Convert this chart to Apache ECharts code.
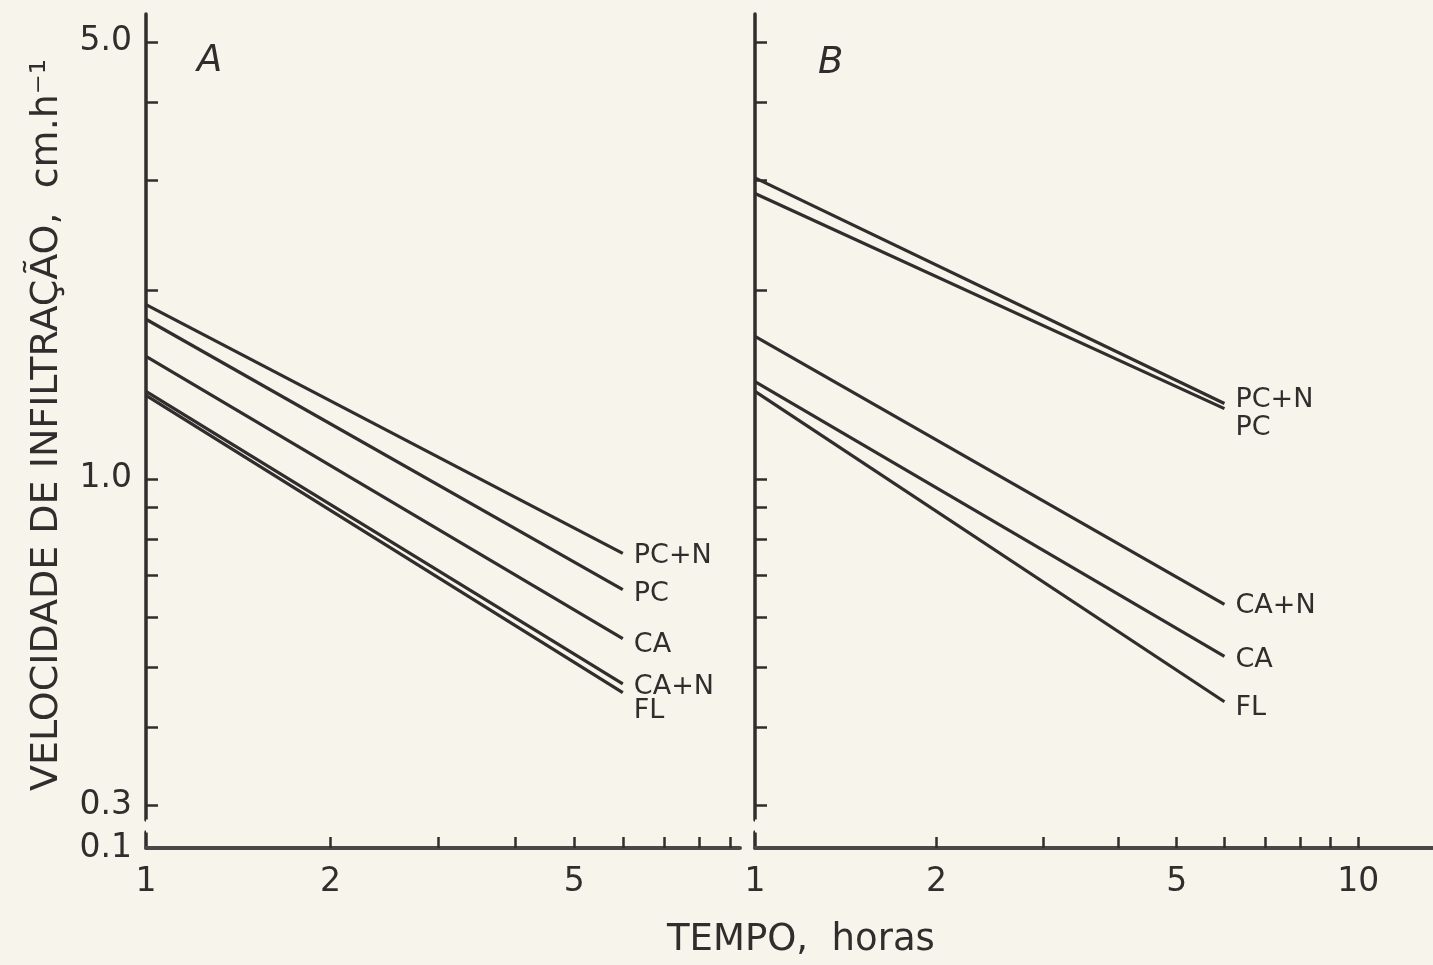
<!DOCTYPE html>
<html><head><meta charset="utf-8">
<script src="https://cdn.jsdelivr.net/npm/echarts@6/dist/echarts.min.js"></script>
<style>html,body{margin:0;padding:0;background:#f7f4eb;}#c{width:1433px;height:965px;}</style>
</head><body><div id="c"></div>
<script>
// ---- data ----
const seriesNames = ['PC+N', 'PC', 'CA', 'CA+N', 'FL'];
const tempo = [1, 6];                 // horas
// Panel A — velocidade de infiltração (cm/h) at tempo[0], tempo[1]
const aPCN = [1.90, 0.76];
const aPC  = [1.80, 0.665];
const aCA  = [1.57, 0.555];
const aCAN = [1.38, 0.47];
const aFL  = [1.36, 0.455];
// Panel B
const bPCN = [3.03, 1.32];
const bPC  = [2.86, 1.295];
const bCAN = [1.69, 0.63];
const bCA  = [1.43, 0.52];
const bFL  = [1.38, 0.44];
// ticks
const xTicksA = [2, 3, 4, 5, 6, 7, 8, 9];
const xTicksB = [2, 3, 4, 5, 6, 7, 8, 9, 10];
const xLabelsA = [1, 2, 5];
const xLabelsB = [1, 2, 5, 10];
const yTicks = [0.3, 0.4, 0.5, 0.6, 0.7, 0.8, 0.9, 1, 2, 3, 4, 5];
const yLabelValues = [0.1, 0.3, 1, 5];
const yLabelTexts = ['0.1', '0.3', '1.0', '5.0'];

// ---- styles ----
const BG = '#f7f4eb';
const INK = '#2f2e2d';
const FONT = "'DejaVu Sans', 'Liberation Sans', sans-serif";
const labelDyA = { 'PC+N': 3, 'PC': 4, 'CA': 6, 'CA+N': 3, 'FL': 18 };
const labelDyB = { 'PC+N': -3, 'PC': 19, 'CA': 4, 'CA+N': 2, 'FL': 6 };

const panelA = [aPCN, aPC, aCA, aCAN, aFL];
const panelB = [bPCN, bPC, bCAN, bCA, bFL];
const namesB = ['PC+N', 'PC', 'CA+N', 'CA', 'FL'];

function yAxisCfg(gridIndex, showLabels) {
  return {
    type: 'log', logBase: 10, gridIndex: gridIndex,
    min: 0.1, max: 5.54,
    breaks: [{ start: 0.106, end: 0.285, gap: '1.5%' }],
    breakArea: { show: true, itemStyle: { color: BG, borderWidth: 0, opacity: 1 },
      zigzagAmplitude: 0, expandOnClick: false },
    axisLine: { show: true, lineStyle: { color: INK, width: 3.5 } },
    axisTick: { show: true, inside: true, length: 12, customValues: yTicks,
      lineStyle: { color: INK, width: 2.5 } },
    axisLabel: { show: showLabels, customValues: yLabelValues, margin: 14,
      fontSize: 33, color: INK, fontFamily: FONT,
      formatter: v => { const i = yLabelValues.findIndex(x => Math.abs(x - v) < 1e-6); return i >= 0 ? yLabelTexts[i] : ''; } },
    splitLine: { show: false },
    name: showLabels ? 'VELOCIDADE DE INFILTRAÇÃO,  cm.h⁻¹' : '',
    nameLocation: 'middle', nameRotate: 90, nameGap: 80,
    nameTextStyle: { fontSize: 38, color: INK, fontFamily: FONT, padding: [0, 0, 0, 12] }
  };
}
function xAxisCfg(gridIndex, max, ticks, labels) {
  return {
    type: 'log', logBase: 10, gridIndex: gridIndex, min: 1, max: max,
    axisLine: { show: true, lineStyle: { color: '#4a4846', width: 4 } },
    axisTick: { show: true, inside: true, length: 11, customValues: ticks,
      lineStyle: { color: INK, width: 2.5 } },
    axisLabel: { show: true, customValues: labels, margin: 18, fontSize: 33,
      color: INK, fontFamily: FONT, formatter: v => String(Math.round(v)) },
    splitLine: { show: false }
  };
}
function makeSeries(arrs, names, gi, dyMap) {
  return arrs.map((vals, i) => ({
    type: 'line', name: names[i], xAxisIndex: gi, yAxisIndex: gi,
    data: tempo.map((t, k) => [t, vals[k]]),
    symbol: 'none', silent: true, animation: false,
    lineStyle: { color: INK, width: 3.2 },
    emphasis: { disabled: true },
    endLabel: { show: true, formatter: '{a}', distance: 11, offset: [0, dyMap[names[i]]],
      fontSize: 27, color: INK, fontFamily: FONT }
  }));
}

const chart = echarts.init(document.getElementById('c'), null, { renderer: 'canvas' });
chart.setOption({
  backgroundColor: BG,
  animation: false,
  title: [
    { text: 'A', left: 192, top: 38, textStyle: { fontSize: 37, fontStyle: 'italic', fontWeight: 'normal', color: INK, fontFamily: FONT } },
    { text: 'B', left: 813, top: 40, textStyle: { fontSize: 37, fontStyle: 'italic', fontWeight: 'normal', color: INK, fontFamily: FONT } },
    { text: 'TEMPO,  horas', left: 662, top: 917, textStyle: { fontSize: 37, fontWeight: 'normal', color: INK, fontFamily: FONT } }
  ],
  grid: [
    { left: 146, top: 14, width: 594, height: 834, containLabel: false, outerBoundsMode: 'none' },
    { left: 755, top: 14, width: 678, height: 834, containLabel: false, outerBoundsMode: 'none' }
  ],
  xAxis: [xAxisCfg(0, 9.32, xTicksA, xLabelsA), xAxisCfg(1, 13.3, xTicksB, xLabelsB)],
  yAxis: [yAxisCfg(0, true), yAxisCfg(1, false)],
  series: [].concat(makeSeries(panelA, seriesNames, 0, labelDyA), makeSeries(panelB, namesB, 1, labelDyB))
});
</script></body></html>
